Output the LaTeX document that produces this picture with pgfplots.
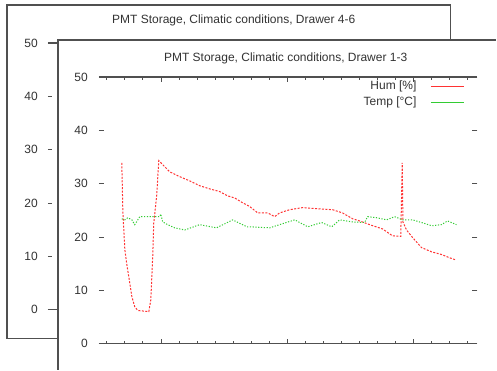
\documentclass[border=0pt]{standalone}
\usepackage{fontspec}
\setmainfont{Liberation Sans}
\usepackage{pgfplots}
\pgfplotsset{compat=1.18}
\definecolor{hum}{HTML}{FF3333}
\definecolor{tmp}{HTML}{33CC33}
\definecolor{frm}{HTML}{505050}
\definecolor{txt}{HTML}{333333}
\pgfplotsset{gp/.style={
  scale only axis, separate axis lines,
  x axis line style={draw=frm, line width=1.3pt},
  y axis line style={draw=none},
  tick style={draw=frm, line width=0.8pt},
  tick align=inside,
  ymin=0, ymax=50, ytick={0,10,...,50},
  major tick length=4pt, minor tick length=3pt,
  xticklabels={},
  /pgf/number format/assume math mode=true,
  tick label style={font=\fontsize{12}{14}\selectfont, text=txt},
  yticklabel style={inner sep=0pt},
}}
\begin{document}
\begin{tikzpicture}[font=\fontsize{12}{14}\selectfont]
\fill[white] (0pt,0pt) rectangle (497pt,370pt);
% back window
\draw[frm, line width=1.2pt, fill=white] (7pt,31pt) rectangle (451pt,365pt);
\node[text=txt] at (234pt,350pt) {PMT Storage, Climatic conditions, Drawer 4-6};
\begin{axis}[gp, at={(48pt,60pt)}, anchor=south west, width=390pt, height=267pt,
  xmin=0, xmax=20, xtick=\empty,
  yticklabel style={xshift=-10pt}]
\addplot[draw=none] coordinates {(0,0)};
\end{axis}
% front window
\fill[white] (58pt,0pt) rectangle (497pt,330pt);
\draw[frm, line width=1.2pt] (58pt,0pt) -- (58pt,330pt) -- (497pt,330pt);
\node[text=txt] at (286pt,312pt) {PMT Storage, Climatic conditions, Drawer 1-3};
\begin{axis}[gp, at={(99pt,26pt)}, anchor=south west, width=379pt, height=267pt,
  xmin=-0.44, xmax=20.55,
  xtick={3,10,17}, minor xtick={0,1,...,20},
  major tick length=5pt,
  yticklabel style={xshift=-11pt},
  legend style={at={(0.966,0.993)}, anchor=north east, draw=none, fill=none,
    inner sep=0pt, row sep=2pt, column sep=12pt,
    font=\fontsize{12}{14}\selectfont, text=txt},
  legend cell align=right, legend plot pos=right,
  legend image code/.code={\draw[#1, solid] (0pt,0pt) -- (33pt,0pt);},
]
\addplot[hum, line width=1pt, dash pattern=on 2pt off 1.5pt] coordinates {
(0.83,33.9) (0.89,24.7) (1.00,17.6) (1.11,14.8) (1.22,12.5) (1.39,8.8)
(1.55,6.9) (1.72,6.2) (2.33,6.0) (2.44,8.2) (2.55,16.7) (2.60,22.5)
(2.77,27.9) (2.88,34.3) (3.49,32.2) (4.04,31.3) (4.60,30.5) (5.15,29.6)
(5.71,29.0) (6.26,28.5) (6.70,27.7) (7.09,27.3) (7.53,26.4) (7.92,25.7)
(8.37,24.5) (8.92,24.5) (9.31,23.8) (9.58,24.5) (10.14,25.1) (10.86,25.5)
(11.63,25.3) (12.52,25.1) (13.07,24.5) (13.63,23.4) (14.02,23.0) (14.57,22.3)
(15.29,21.5) (15.84,20.2) (16.30,20.1) (16.38,33.9) (16.42,22.8) (16.62,21.3)
(16.95,19.9) (17.45,18.0) (18.01,17.2) (18.56,16.7) (19.00,16.1) (19.34,15.7)
};
\addlegendentry{Hum [\%]}
\addplot[tmp, line width=1pt, dash pattern=on 1.2pt off 1.6pt] coordinates {
(0.83,23.4) (1.00,23.2) (1.16,23.6) (1.39,23.2) (1.55,22.3) (1.83,23.8)
(2.94,23.8) (2.99,24.3) (3.10,22.8) (3.38,22.3) (3.77,21.7) (4.32,21.3)
(5.15,22.3) (6.09,21.7) (6.98,23.2) (7.76,21.9) (7.92,21.9) (9.03,21.7)
(9.58,22.3) (10.42,23.2) (11.14,21.9) (11.91,22.7) (12.47,21.9) (12.91,23.2)
(13.63,22.8) (14.29,22.7) (14.46,23.8) (14.96,23.6) (15.51,23.2) (15.96,23.8)
(16.40,23.2) (16.95,23.2) (17.45,22.7) (18.01,22.1) (18.56,22.3) (18.89,23.0)
(19.39,22.3)
};
\addlegendentry{Temp [°C]}
\end{axis}
\end{tikzpicture}
\end{document}
